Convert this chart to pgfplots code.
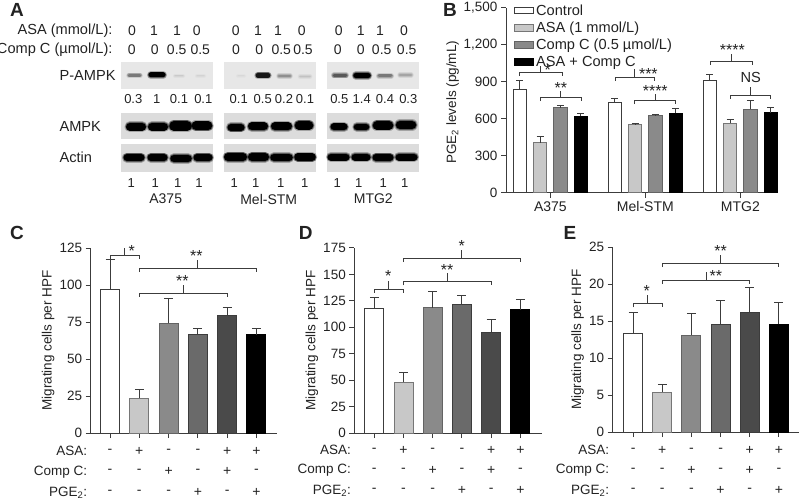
\documentclass[border=0pt]{standalone}
\usepackage{fontspec}
\setmainfont{Liberation Sans}
\usepackage{pgfplots}
\pgfplotsset{compat=1.18}

\definecolor{tx}{HTML}{222222}
\definecolor{ln}{HTML}{3C3C3C}
\definecolor{blot}{HTML}{DCDCDC}
\definecolor{g1}{HTML}{C8C8C8}
\definecolor{g2}{HTML}{8A8A8A}
\definecolor{g3}{HTML}{6A6A6A}
\definecolor{g4}{HTML}{4A4A4A}

\newcommand\fs[1]{\fontsize{#1}{#1}\selectfont}

% soft western blot band: x1 x2 y thickness blackness
\newcommand\band[5]{%
  \addplot[no markers,line cap=round,draw=black!#5!blot,opacity=0.25,line width=#4pt+3pt] coordinates {(#1,#3) (#2,#3)};
  \addplot[no markers,line cap=round,draw=black!#5!blot,opacity=0.45,line width=#4pt+1.5pt] coordinates {(#1,#3) (#2,#3)};
  \addplot[no markers,line cap=round,draw=black!#5!blot,line width=#4pt] coordinates {(#1,#3) (#2,#3)};
}
% significance bracket: x1 x2 y stem length
\newcommand\brk[4]{%
  \draw[ln,line width=1pt] ([yshift=-3.5pt]axis cs:#1,#3) -- (axis cs:#1,#3) -- (axis cs:#2,#3) -- ([yshift=-3.5pt]axis cs:#2,#3);
  \draw[ln,line width=1pt] (axis cs:{(#1+#2)/2},#3) -- ([yshift=#4pt]axis cs:{(#1+#2)/2},#3);
}
\newcommand\stars[3]{\node[anchor=base,yshift=-8.5pt,font=\fs{16}] at (axis cs:#1,#2) {#3};}
% text at x,y in panel A
\newcommand\nA[2]{\node[font=\fs{14}] at (axis cs:#1,30.5) {#2};}
\newcommand\nB[2]{\node[font=\fs{14}] at (axis cs:#1,50) {#2};}
\newcommand\nC[2]{\node[font=\fs{13}] at (axis cs:#1,99) {#2};}
\newcommand\nD[1]{\node[font=\fs{13}] at (axis cs:#1,182.7) {1};}
% +/- row under the migration panels, offset in pt below the x axis
\newcommand\sg[3]{\node[font=\fs{14}] at ([yshift=-#1pt]axis cs:#2,0) {#3};}
\newcommand\rowtxt[8]{%
  \node[anchor=east,font=\fs{13.5}] at ([yshift=-#1pt]rel axis cs:0,0) {#2};
  \sg{#1}{0}{#3}\sg{#1}{1}{#4}\sg{#1}{2}{#5}\sg{#1}{3}{#6}\sg{#1}{4}{#7}\sg{#1}{5}{#8}
}
\newcommand\rows[3]{%
  \rowtxt{#1}{ASA:}{-}{+}{-}{-}{+}{+}
  \rowtxt{#2}{Comp C:}{-}{-}{+}{-}{+}{-}
  \rowtxt{#3}{PGE\textsubscript{2}:}{-}{-}{-}{+}{-}{+}
}

\pgfplotsset{
  prism/.style={
    scale only axis,
    anchor=south west,
    clip=false,
    axis lines=left,
    axis line style={-,ln,line width=1pt},
    tick style={ln,line width=1pt},
    tick align=outside,
    major tick length=5pt,
    tick label style={font=\fs{13.5}},
    label style={font=\fs{13.5}},
    /pgf/number format/assume math mode=true,
    /pgf/number format/1000 sep={,},
    ybar,
    bar shift=0pt,
    ymin=0,
    error bars/y dir=plus,
    error bars/y explicit,
    error bars/error bar style={ln,line width=1pt},
  },
  mig/.style={
    prism,
    bar width=19pt,
    xtick={0,1,2,3,4,5},
    xticklabels={},
    ylabel={Migrating cells per HPF},
    error bars/error mark options={rotate=90,ln,mark size=4.5pt,line width=1pt},
  },
  b0/.style={fill=white,draw=ln,line width=1pt},
  b1/.style={fill=g1,draw=ln!70,line width=1pt},
  b2/.style={fill=g2,draw=ln!80,line width=1pt},
  b3/.style={fill=g3,draw=ln,line width=1pt},
  b4/.style={fill=g4,draw=ln,line width=1pt},
  b5/.style={fill=black,draw=black,line width=1pt},
}

\begin{document}
\begin{tikzpicture}[every node/.append style={text=tx}]
\path[use as bounding box] (0,0) rectangle (800pt,501pt);

% panel A and the panel letters, px coordinates of the figure
\begin{axis}[at={(0pt,0pt)},anchor=south west,scale only axis,width=800pt,height=501pt,
  xmin=0,xmax=800,ymin=0,ymax=501,y dir=reverse,hide axis,clip=false]
\fill[blot!70!white] (axis cs:121,62.3) rectangle (axis cs:213,89.3);
\fill[blot!70!white] (axis cs:224.3,62.3) rectangle (axis cs:316,89.3);
\fill[blot!70!white] (axis cs:327,62.3) rectangle (axis cs:419.3,89.3);
\fill[blot] (axis cs:121,112.7) rectangle (axis cs:213,138.7);
\fill[blot] (axis cs:224.3,112.7) rectangle (axis cs:316,138.7);
\fill[blot] (axis cs:327,112.7) rectangle (axis cs:419.3,138.7);
\fill[blot] (axis cs:121,144) rectangle (axis cs:213,171.7);
\fill[blot] (axis cs:224.3,144) rectangle (axis cs:316,171.7);
\fill[blot] (axis cs:327,144) rectangle (axis cs:419.3,171.7);
% P-AMPK
\band{129}{140}{75.5}{2.5}{45}
\band{151}{163}{75}{5}{100}
\band{175}{183}{76}{1}{8}
\band{197}{204}{76}{1}{4}
\band{238}{244}{76}{1}{2}
\band{258}{268}{75.5}{4.5}{90}
\band{279}{290}{76}{2.5}{35}
\band{300}{310}{76.5}{1.5}{12}
\band{334}{346}{75.5}{3}{60}
\band{356}{368}{75.5}{5.5}{100}
\band{379}{391}{76}{3}{45}
\band{400}{411}{75}{2.5}{25}
% AMPK
\band{130}{142}{126.7}{8}{100}
\band{152}{164}{126.7}{8}{100}
\band{174}{187}{126}{9.5}{100}
\band{196}{208}{125.7}{8.5}{100}
\band{231}{241}{127.5}{7}{100}
\band{252}{264}{126.5}{8}{100}
\band{275}{288}{126.5}{8}{100}
\band{299}{309}{125.5}{8.5}{100}
\band{334}{344}{127}{7}{100}
\band{357}{366}{127}{6.5}{100}
\band{377}{389}{125.5}{8.5}{100}
\band{400}{412}{125}{8.5}{100}
% Actin
\band{127}{141}{157.5}{7}{100}
\band{151}{164}{157.5}{7}{100}
\band{174}{188}{158.5}{7.5}{100}
\band{197}{209}{157.5}{7}{100}
\band{228}{243}{157}{8}{100}
\band{252}{265}{157}{8}{100}
\band{274}{289}{157.5}{7.5}{100}
\band{298}{312}{157}{7.5}{100}
\band{331}{346}{157}{7}{100}
\band{355}{367}{157}{7}{100}
\band{376}{390}{157.5}{7}{100}
\band{399}{414}{157}{7}{100}

\node[anchor=east,font=\fs{14.6}] at (axis cs:116,30.5) {ASA (mmol/L):};
\node[anchor=east,font=\fs{14.6}] at (axis cs:116,50) {Comp C (µmol/L):};
\nA{132}{0}\nA{154}{1}\nA{177}{1}\nA{196.7}{0}\nA{235.7}{0}\nA{258}{1}\nA{278}{1}\nA{301.7}{0}\nA{338.7}{0}\nA{360.7}{1}\nA{380}{1}\nA{404}{0}
\nB{131.7}{0}\nB{154.7}{0}\nB{176.7}{0.5}\nB{200.3}{0.5}\nB{236}{0}\nB{259.3}{0}\nB{281.3}{0.5}\nB{303}{0.5}\nB{337.7}{0}\nB{360.7}{0}\nB{381.7}{0.5}\nB{406.7}{0.5}
\nC{133.3}{0.3}\nC{156.7}{1}\nC{179}{0.1}\nC{203.3}{0.1}\nC{238.7}{0.1}\nC{262.7}{0.5}\nC{284}{0.2}\nC{305}{0.1}\nC{339.3}{0.5}\nC{361.7}{1.4}\nC{385}{0.4}\nC{408.3}{0.3}
\nD{131.3}\nD{155.3}\nD{177.7}\nD{199}\nD{234.3}\nD{255.7}\nD{280.7}\nD{304.7}\nD{337.3}\nD{358.7}\nD{383.3}\nD{404.7}
\node[font=\fs{14}] at (axis cs:165.7,199) {A375};
\node[font=\fs{14}] at (axis cs:268.7,199) {Mel-STM};
\node[font=\fs{14}] at (axis cs:373.3,199) {MTG2};
\node[anchor=west,font=\fs{14.6}] at (axis cs:56,75.3) {P-AMPK};
\node[anchor=west,font=\fs{14.6}] at (axis cs:56,126.7) {AMPK};
\node[anchor=west,font=\fs{14.6}] at (axis cs:56,157) {Actin};
\node[font=\bfseries\fs{19}] at (axis cs:17,10) {A};
\node[font=\bfseries\fs{19}] at (axis cs:450,9.5) {B};
\node[font=\bfseries\fs{19}] at (axis cs:17,233) {C};
\node[font=\bfseries\fs{19}] at (axis cs:305.7,232.7) {D};
\node[font=\bfseries\fs{19}] at (axis cs:570,232.7) {E};
\end{axis}

% panel B
\begin{axis}[prism,at={(506pt,308.3pt)},width=272pt,height=184.7pt,
  xmin=-0.69,xmax=12.74,ymax=1500,
  bar width=13.3pt,
  ytick={0,300,600,900,1200,1500},
  xtick={1.5,6.19,10.88},xticklabels={A375,Mel-STM,MTG2},
  xticklabel style={font=\fs{14}},
  ylabel={PGE\textsubscript{2} levels (pg/mL)},
  ylabel style={at={(axis description cs:-0.196,0.49)},anchor=center},
  error bars/error mark options={rotate=90,ln,mark size=3.5pt,line width=1pt},
  legend style={draw=none,fill=none,at={(axis description cs:0.03,1.03)},anchor=north west,
    font=\fs{14.6},inner sep=0pt,outer sep=0pt,row sep=1.2pt,
    /tikz/every even column/.append style={column sep=0pt}},
  legend cell align=left,
  legend image code/.code={\draw[#1] (0pt,-3.3pt) rectangle (19pt,3.3pt);},
]
\addplot[b0] coordinates {(0,840) +- (0,70) (4.69,731) +- (0,30) (9.38,912) +- (0,49)};
\addplot[b1] coordinates {(1,406) +- (0,49) (5.69,550) +- (0,13) (10.38,563) +- (0,33)};
\addplot[b2] coordinates {(2,690) +- (0,19) (6.69,625) +- (0,9) (11.38,677) +- (0,70)};
\addplot[b5] coordinates {(3,620) +- (0,22) (7.69,644) +- (0,38) (12.38,650) +- (0,43)};
\legend{Control,ASA (1 mmol/L),Comp C (0.5 µmol/L),ASA + Comp C}
\brk{-0.03}{2.1}{975}{6.7}
\brk{1}{3.05}{772}{7}
\brk{4.72}{6.62}{937}{8}
\brk{5.66}{7.7}{747}{6.3}
\brk{9.42}{11.49}{1067}{7.7}
\brk{10.37}{12.38}{793}{7.7}
\stars{1.37}{1023}{*}
\stars{2.02}{875}{**}
\stars{6.34}{988}{***}
\stars{6.68}{853}{****}
\stars{10.49}{1186}{****}
\node[font=\fs{14.6}] at (axis cs:11.39,934) {NS};
\end{axis}

% panel C
\begin{axis}[mig,at={(90.7pt,68pt)},width=186.3pt,height=185pt,
  xmin=-0.66,xmax=5.7,ymax=125,ytick={0,25,50,75,100,125},
  ylabel style={at={(axis description cs:-0.229,0.5)},anchor=center}]
\addplot[b0] coordinates {(0,97) +- (0,20)};
\addplot[b1] coordinates {(1,23.4) +- (0,6.1)};
\addplot[b2] coordinates {(2,74) +- (0,16.8)};
\addplot[b3] coordinates {(3,66.5) +- (0,4.3)};
\addplot[b4] coordinates {(4,79.4) +- (0,5.1)};
\addplot[b5] coordinates {(5,66.5) +- (0,4.3)};
\brk{0}{1}{119.6}{8}
\brk{1}{5}{111}{8.7}
\brk{1}{4}{94.4}{8.3}
\stars{0.74}{124.8}{*}
\stars{2.95}{121.4}{**}
\stars{2.47}{104.5}{**}
\rows{18}{38.7}{59.7}
\end{axis}

% panel D
\begin{axis}[mig,at={(354.3pt,68pt)},width=187.4pt,height=185pt,
  xmin=-0.685,xmax=5.73,ymax=175,ytick={0,25,50,75,100,125,150,175},
  ylabel style={at={(axis description cs:-0.227,0.5)},anchor=center}]
\addplot[b0] coordinates {(0,117.7) +- (0,10.7)};
\addplot[b1] coordinates {(1,48) +- (0,9.6)};
\addplot[b2] coordinates {(2,118.7) +- (0,14.8)};
\addplot[b3] coordinates {(3,122) +- (0,8)};
\addplot[b4] coordinates {(4,95) +- (0,12.6)};
\addplot[b5] coordinates {(5,116.5) +- (0,10)};
\brk{0}{1}{136}{8.7}
\brk{1}{4}{142.9}{8.7}
\brk{1}{5}{164.9}{8.7}
\stars{0.48}{151}{*}
\stars{2.49}{157}{**}
\stars{2.99}{179.4}{*}
\rows{17}{37}{57.7}
\end{axis}

% panel E
\begin{axis}[mig,at={(612.7pt,69pt)},width=186.3pt,height=184.7pt,
  xmin=-0.7,xmax=5.69,ymax=25,ytick={0,5,10,15,20,25},
  ylabel style={at={(axis description cs:-0.188,0.5)},anchor=center}]
\addplot[b0] coordinates {(0,13.3) +- (0,2.9)};
\addplot[b1] coordinates {(1,5.4) +- (0,1)};
\addplot[b2] coordinates {(2,13.1) +- (0,3)};
\addplot[b3] coordinates {(3,14.5) +- (0,3.3)};
\addplot[b4] coordinates {(4,16.2) +- (0,3.3)};
\addplot[b5] coordinates {(5,14.6) +- (0,2.9)};
\brk{0}{1}{17.33}{8.7}
\brk{1}{4}{20.5}{9}
\brk{1}{5}{22.8}{9}
\stars{0.47}{19.45}{*}
\stars{2.84}{21.5}{**}
\stars{3}{24.9}{**}
\rows{18}{38}{58.7}
\end{axis}
\end{tikzpicture}
\end{document}
